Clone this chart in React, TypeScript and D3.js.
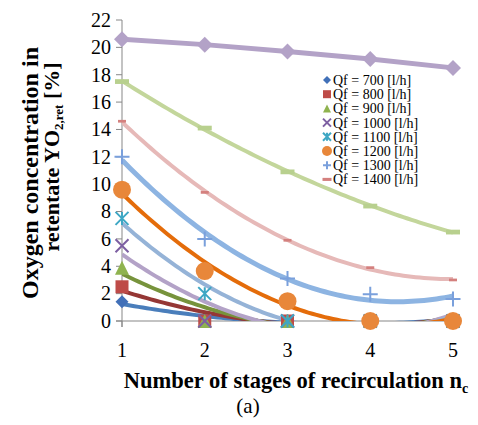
import React, { useRef, useEffect } from 'react';
import * as d3 from 'd3';

// stages of recirculation
const stages = [1, 2, 3, 4, 5];
const yTicks = [0, 2, 4, 6, 8, 10, 12, 14, 16, 18, 20, 22];

const legendLabels = [
    'Qf = 700 [l/h]', 'Qf = 800 [l/h]', 'Qf = 900 [l/h]', 'Qf = 1000 [l/h]',
    'Qf = 1100 [l/h]', 'Qf = 1200 [l/h]', 'Qf = 1300 [l/h]', 'Qf = 1400 [l/h]',
];

// oxygen concentration in retentate [%]
const qf700 = [1.4, 0, 0, 0, 0];
const qf800 = [2.5, 0, 0, 0, 0];
const qf900 = [3.9, 0, 0, 0, 0];
const qf1000 = [5.5, 0, 0, 0, 0];
const qf1100 = [7.5, 2.0, 0, 0, 0];
const qf1200 = [9.6, 3.65, 1.45, 0, 0];
const qf1300 = [12.0, 6.0, 3.1, 1.95, 1.6];
const qf1400 = [14.6, 9.4, 5.9, 3.9, 3.0];
const qf1500 = [17.5, 14.1, 10.9, 8.4, 6.5];
const qf1600 = [20.6, 20.2, 19.7, 19.15, 18.5];

type Marker = 'diamond' | 'square' | 'triangle' | 'x' | 'star' | 'circle' | 'plus' | 'dash';

const series: { values: number[]; marker: Marker; color: string; trend: string | null; size: number; width: number }[] = [
    { values: qf700, marker: 'diamond', color: '#4170b8', trend: '#4a7ebb', size: 13, width: 4 },
    { values: qf800, marker: 'square', color: '#be4b48', trend: '#953735', size: 13, width: 4 },
    { values: qf900, marker: 'triangle', color: '#8fb34f', trend: '#77933c', size: 14, width: 4 },
    { values: qf1000, marker: 'x', color: '#7d5fa2', trend: '#b3a2c7', size: 13, width: 4 },
    { values: qf1100, marker: 'star', color: '#3ea7c4', trend: '#95b3d7', size: 13, width: 4 },
    { values: qf1200, marker: 'circle', color: '#e8873a', trend: '#e46c0a', size: 18, width: 4 },
    { values: qf1300, marker: 'plus', color: '#7aa0dc', trend: '#8db4e2', size: 15, width: 5 },
    { values: qf1400, marker: 'dash', color: '#d4807e', trend: '#e6b9b8', size: 8, width: 4 },
    { values: qf1500, marker: 'dash', color: '#b8d08e', trend: '#c3d69b', size: 14, width: 4 },
];

// least squares quadratic, like the spreadsheet's polynomial trendline
function quadFit(xs: number[], ys: number[]) {
    const n = xs.length;
    let s1 = 0, s2 = 0, s3 = 0, s4 = 0, t0 = 0, t1 = 0, t2 = 0;
    xs.forEach((x, i) => {
        const y = ys[i];
        s1 += x; s2 += x * x; s3 += x ** 3; s4 += x ** 4;
        t0 += y; t1 += x * y; t2 += x * x * y;
    });
    const m = [[n, s1, s2, t0], [s1, s2, s3, t1], [s2, s3, s4, t2]];
    for (let c = 0; c < 3; c++) {
        for (let r = c + 1; r < 3; r++) {
            const f = m[r][c] / m[c][c];
            for (let k = c; k < 4; k++) m[r][k] -= f * m[c][k];
        }
    }
    const b = [0, 0, 0];
    for (let r = 2; r >= 0; r--) {
        let s = m[r][3];
        for (let k = r + 1; k < 3; k++) s -= m[r][k] * b[k];
        b[r] = s / m[r][r];
    }
    return (x: number) => b[0] + b[1] * x + b[2] * x * x;
}

function drawMarker(g: d3.Selection<SVGGElement, unknown, null, undefined>, kind: Marker, cx: number, cy: number, s: number, color: string) {
    const h = s / 2;
    if (kind === 'diamond') {
        g.append('path').attr('d', `M${cx},${cy - h}L${cx + h},${cy}L${cx},${cy + h}L${cx - h},${cy}Z`).attr('fill', color);
    } else if (kind === 'square') {
        g.append('rect').attr('x', cx - h).attr('y', cy - h).attr('width', s).attr('height', s).attr('fill', color);
    } else if (kind === 'triangle') {
        g.append('path').attr('d', `M${cx},${cy - h}L${cx + h},${cy + h}L${cx - h},${cy + h}Z`).attr('fill', color);
    } else if (kind === 'circle') {
        g.append('circle').attr('cx', cx).attr('cy', cy).attr('r', h).attr('fill', color);
    } else if (kind === 'dash') {
        g.append('rect').attr('x', cx - h).attr('y', cy - s * 0.17).attr('width', s).attr('height', s * 0.34).attr('fill', color);
    } else {
        let d = '';
        if (kind === 'x' || kind === 'star') d += `M${cx - h},${cy - h}L${cx + h},${cy + h}M${cx - h},${cy + h}L${cx + h},${cy - h}`;
        if (kind === 'star') d += `M${cx},${cy - h}L${cx},${cy + h}`;
        if (kind === 'plus') d += `M${cx - h},${cy}L${cx + h},${cy}M${cx},${cy - h}L${cx},${cy + h}`;
        g.append('path').attr('d', d).attr('stroke', color).attr('stroke-width', 2).attr('fill', 'none');
    }
}

const App: React.FC = () => {
    const svgRef = useRef<SVGSVGElement | null>(null);

    useEffect(() => {
        if (!svgRef.current) return;
        const svg = d3.select(svgRef.current);
        svg.selectAll('*').remove();

        const x = d3.scaleLinear().domain([1, 5]).range([122, 453]);
        const y = d3.scaleLinear().domain([0, 22]).range([321, 20]);
        const axisColor = '#878787';

        svg.append('defs').append('clipPath').attr('id', 'plot')
            .append('rect').attr('x', 122).attr('y', 20).attr('width', 340).attr('height', 301);

        // axes
        const ax = svg.append('g');
        ax.append('line').attr('x1', 122).attr('x2', 122).attr('y1', y(22)).attr('y2', y(0) + 6).attr('stroke', axisColor);
        ax.append('line').attr('x1', 116).attr('x2', x(5) + 3).attr('y1', y(0)).attr('y2', y(0)).attr('stroke', axisColor);
        yTicks.forEach(t => {
            ax.append('line').attr('x1', 116).attr('x2', 122).attr('y1', y(t)).attr('y2', y(t)).attr('stroke', axisColor);
            ax.append('text').attr('x', 111).attr('y', y(t)).attr('dy', '0.34em').attr('text-anchor', 'end')
                .attr('font-size', 20).text(t);
        });
        stages.forEach(s => {
            ax.append('line').attr('x1', x(s)).attr('x2', x(s)).attr('y1', y(0)).attr('y2', y(0) + 6).attr('stroke', axisColor);
            ax.append('text').attr('x', x(s)).attr('y', 357).attr('text-anchor', 'middle')
                .attr('font-size', 20).text(s);
        });

        // trendlines
        const lines = svg.append('g').attr('clip-path', 'url(#plot)');
        const dense = d3.range(1, 5.001, 0.05);
        series.forEach(s => {
            if (!s.trend) return;
            const f = quadFit(stages, s.values);
            lines.append('path')
                .attr('d', d3.line<number>().x(v => x(v)).y(v => y(f(v)))(dense))
                .attr('fill', 'none').attr('stroke', s.trend).attr('stroke-width', s.width);
        });

        // top series with straight connecting line
        lines.append('path')
            .attr('d', d3.line<number>().x((_, i) => x(stages[i])).y(v => y(v))(qf1600))
            .attr('fill', 'none').attr('stroke', '#b3a2c7').attr('stroke-width', 5);

        const marks = svg.append('g');
        series.forEach(s => {
            s.values.forEach((v, i) => drawMarker(marks, s.marker, x(stages[i]), y(v), s.size, s.color));
        });
        qf1600.forEach((v, i) => drawMarker(marks, 'diamond', x(stages[i]), y(v), 16, '#b3a2c7'));

        // legend
        const lg = svg.append('g');
        legendLabels.forEach((label, i) => {
            const ly = 80 + i * 14.2;
            const s = series[i];
            const small = s.marker === 'dash' ? 9 : s.marker === 'circle' ? 10 : 8;
            drawMarker(lg, s.marker, 327, ly, small, s.color);
            lg.append('text').attr('x', 333).attr('y', ly).attr('dy', '0.35em')
                .attr('font-size', 14).text(label);
        });

        // titles
        const xt = svg.append('text').attr('x', 296).attr('y', 388).attr('text-anchor', 'middle')
            .attr('font-size', 22.5).attr('font-weight', 'bold');
        xt.append('tspan').text('Number of stages of recirculation n');
        xt.append('tspan').attr('font-size', 14).attr('dy', 5).text('c');

        svg.append('text').attr('x', 248).attr('y', 413).attr('text-anchor', 'middle')
            .attr('font-size', 21).text('(a)');

        svg.append('text').attr('transform', 'translate(38,173) rotate(-90)').attr('text-anchor', 'middle')
            .attr('font-size', 24).attr('font-weight', 'bold')
            .text('Oxygen concentration in');
        const yt2 = svg.append('text').attr('transform', 'translate(59,157) rotate(-90)').attr('text-anchor', 'middle')
            .attr('font-size', 22).attr('font-weight', 'bold');
        yt2.append('tspan').text('retentate YO');
        yt2.append('tspan').attr('font-size', 13).attr('dy', 4).text('2,ret');
        yt2.append('tspan').attr('dy', -4).text(' [%]');
    }, []);

    return (
        <svg ref={svgRef} width={478} height={425}
            style={{ position: 'absolute', left: 0, top: 0, background: '#fff', fontFamily: "'Liberation Serif', 'DejaVu Serif', serif" }} />
    );
};

export default App;
